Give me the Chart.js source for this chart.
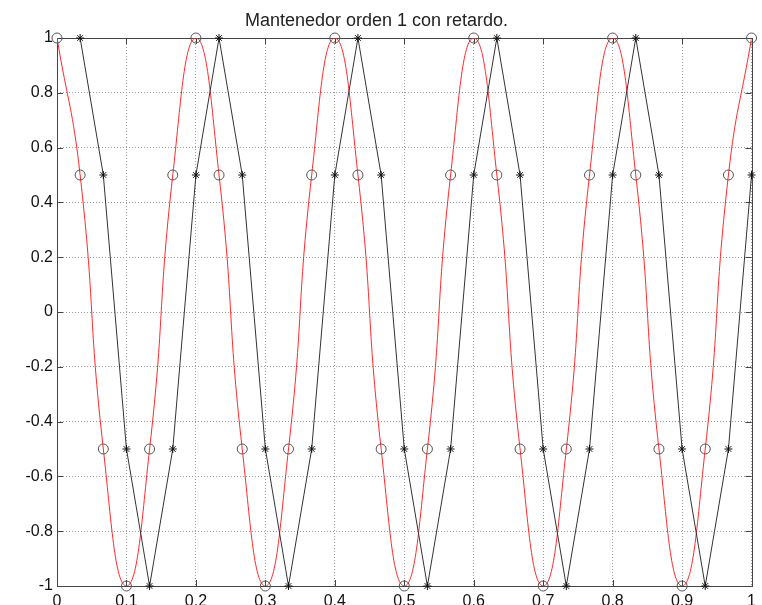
<!DOCTYPE html>
<html>
  <head>
    <meta charset="UTF-8" />
    <title>Mantenedor orden 1 con retardo</title>
    <style>
      body {
        margin: 0;
        background: #fff;
      }
      #wrap {
        width: 762px;
        height: 605px;
      }
    </style>
  </head>

  <body>
    <div id="wrap"><canvas id="chart" width="762" height="605"></canvas></div>

    <script src="https://cdn.jsdelivr.net/npm/chart.js"></script>

    <script>
      // sample instants (s) and sampled values of the cosine (circles, red curve)
      const sampleTimes = [
        0, 0.0333, 0.0667, 0.1, 0.1333, 0.1667, 0.2, 0.2333, 0.2667, 0.3,
        0.3333, 0.3667, 0.4, 0.4333, 0.4667, 0.5, 0.5333, 0.5667, 0.6, 0.6333,
        0.6667, 0.7, 0.7333, 0.7667, 0.8, 0.8333, 0.8667, 0.9, 0.9333, 0.9667, 1,
      ];
      const sampleValues = [
        1, 0.5, -0.5, -1, -0.5, 0.5, 1, 0.5, -0.5, -1,
        -0.5, 0.5, 1, 0.5, -0.5, -1, -0.5, 0.5, 1, 0.5,
        -0.5, -1, -0.5, 0.5, 1, 0.5, -0.5, -1, -0.5, 0.5, 1,
      ];

      // delayed first order hold (black line with stars)
      const holdTimes = [
        0.0333, 0.0667, 0.1, 0.1333, 0.1667, 0.2, 0.2333, 0.2667, 0.3, 0.3333,
        0.3667, 0.4, 0.4333, 0.4667, 0.5, 0.5333, 0.5667, 0.6, 0.6333, 0.6667,
        0.7, 0.7333, 0.7667, 0.8, 0.8333, 0.8667, 0.9, 0.9333, 0.9667, 1,
      ];
      const holdValues = [
        1, 0.5, -0.5, -1, -0.5, 0.5, 1, 0.5, -0.5, -1,
        -0.5, 0.5, 1, 0.5, -0.5, -1, -0.5, 0.5, 1, 0.5,
        -0.5, -1, -0.5, 0.5, 1, 0.5, -0.5, -1, -0.5, 0.5,
      ];

      const xTicks = [0, 0.1, 0.2, 0.3, 0.4, 0.5, 0.6, 0.7, 0.8, 0.9, 1];
      const yTicks = [-1, -0.8, -0.6, -0.4, -0.2, 0, 0.2, 0.4, 0.6, 0.8, 1];

      const pts = (xs, ys) => xs.map((x, i) => ({ x: x, y: ys[i] }));

      // matlab style box with inward ticks
      const boxPlugin = {
        id: "box",
        beforeDatasetsDraw(chart) {
          const { ctx, chartArea: a, scales } = chart;
          ctx.save();
          ctx.strokeStyle = "#444";
          ctx.lineWidth = 1;
          ctx.beginPath();
          xTicks.forEach((v) => {
            const px = Math.round(scales.x.getPixelForValue(v)) + 0.5;
            ctx.moveTo(px, a.bottom);
            ctx.lineTo(px, a.bottom - 6);
            ctx.moveTo(px, a.top);
            ctx.lineTo(px, a.top + 6);
          });
          yTicks.forEach((v) => {
            const py = Math.round(scales.y.getPixelForValue(v)) + 0.5;
            ctx.moveTo(a.left, py);
            ctx.lineTo(a.left + 6, py);
            ctx.moveTo(a.right, py);
            ctx.lineTo(a.right - 6, py);
          });
          ctx.stroke();
          ctx.strokeRect(
            Math.round(a.left) + 0.5,
            Math.round(a.top) + 0.5,
            Math.round(a.right - a.left),
            Math.round(a.bottom - a.top)
          );
          ctx.restore();
        },
      };

      const tickFont = { family: "Liberation Sans, Arial, sans-serif", size: 16 };
      const plain = (v) => String(v);

      new Chart(document.getElementById("chart"), {
        type: "line",
        data: {
          datasets: [
            {
              label: "muestras",
              data: pts(sampleTimes, sampleValues),
              showLine: false,
              pointStyle: "circle",
              pointRadius: 5,
              pointBorderColor: "#555",
              pointBackgroundColor: "rgba(0,0,0,0)",
              pointBorderWidth: 1,
              clip: false,
            },
            {
              label: "retenedor",
              data: pts(holdTimes, holdValues),
              borderColor: "#333",
              borderWidth: 1,
              tension: 0,
              pointStyle: "star",
              pointRadius: 4,
              pointBorderColor: "#111",
              pointBorderWidth: 1,
              clip: false,
            },
            {
              label: "senal",
              data: pts(sampleTimes, sampleValues),
              borderColor: "#ff2a2a",
              borderWidth: 1,
              tension: 0.5,
              pointRadius: 0,
            },
          ],
        },
        options: {
          responsive: false,
          animation: false,
          layout: { padding: { left: 0, right: 9, top: 0, bottom: 0 } },
          plugins: {
            legend: { display: false },
            tooltip: { enabled: false },
            title: {
              display: true,
              text: "Mantenedor orden 1 con retardo.",
              color: "#222",
              font: { family: "Liberation Sans, Arial, sans-serif", size: 18, weight: "normal" },
              padding: { top: 10, bottom: 6.4 },
            },
          },
          scales: {
            x: {
              type: "linear",
              min: 0,
              max: 1,
              afterFit: (s) => {
                s.height = 19;
              },
              afterBuildTicks: (s) => {
                s.ticks = xTicks.map((v) => ({ value: v }));
              },
              ticks: { color: "#111", font: tickFont, padding: 6, maxRotation: 0, autoSkip: false, callback: plain },
              grid: { color: "#999", drawTicks: false },
              border: { display: false, dash: [1, 2] },
            },
            y: {
              type: "linear",
              min: -1,
              max: 1,
              afterFit: (s) => {
                s.width = 57;
              },
              afterBuildTicks: (s) => {
                s.ticks = yTicks.map((v) => ({ value: v }));
              },
              ticks: { color: "#111", font: tickFont, padding: 4, autoSkip: false, callback: plain },
              grid: { color: "#999", drawTicks: false },
              border: { display: false, dash: [1, 2] },
            },
          },
        },
        plugins: [boxPlugin],
      });
    </script>
  </body>
</html>
